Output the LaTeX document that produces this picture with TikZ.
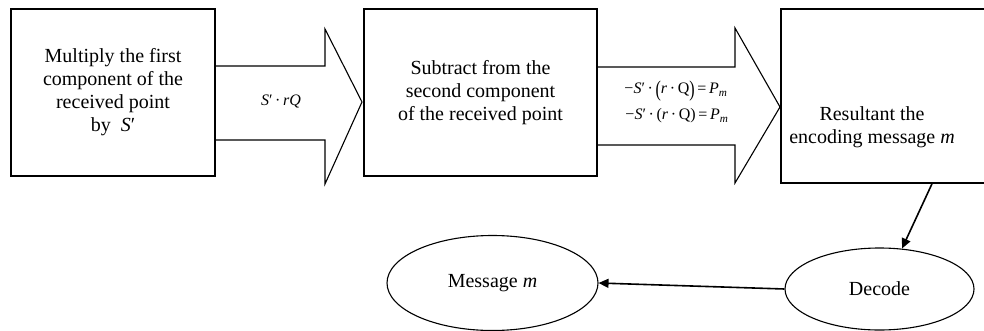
\documentclass[tikz,border=0pt]{standalone}
\usepackage{fontspec}
\setmainfont{Liberation Serif}
\usepackage{graphicx}
\usetikzlibrary{arrows.meta,shapes.geometric}
\newcommand{\bigparL}{\raisebox{-0.16em}{\scalebox{1}[1.4]{(}}}
\newcommand{\bigparR}{\raisebox{-0.16em}{\scalebox{1}[1.4]{)}}}
\begin{document}
\begin{tikzpicture}[x=1pt,y=-1pt,
  box/.style={draw,line width=1.5pt,align=center,font=\fontsize{20}{23}\selectfont,inner sep=0pt},
  oval/.style={draw,ellipse,line width=1.1pt,font=\fontsize{20}{23}\selectfont,inner sep=0pt},
  bigarrow/.style={draw,line width=1.1pt,line join=miter},
  conn/.style={line width=1.6pt,-{Triangle[length=10pt,width=9pt]}},
  lbl/.style={font=\fontsize{16}{24}\selectfont,align=center,inner sep=0pt},
  txt/.style={font=\fontsize{20}{23}\selectfont,align=center,inner sep=0pt}]
\useasboundingbox (0,0) rectangle (984,331);
\clip (0,0) rectangle (984,331);
% boxes
\node[box,minimum width=204pt,minimum height=167pt] (b1) at (113,92.5)
  {Multiply the first\\component of the\\received point\\by \ \textit{S}′};
\node[box,minimum width=233pt,minimum height=167pt] (b2) at (480.5,92.5)
  {Subtract from the\\second component\\of the received point};
\node[box,minimum width=220pt,minimum height=174pt] (b3) at (891,96) {};
\node[txt] (b3t) at (872,127) {Resultant the\\encoding message \textit{m}};
% big arrows
\draw[bigarrow] (b1.east |- 0,66) -- (325,66) -- (325,29) -- (362,102)
  -- (325,184) -- (325,140) -- (b1.east |- 0,140);
\draw[bigarrow] (b2.east |- 0,67) -- (735,67) -- (735,28) -- (780,107)
  -- (735,183) -- (735,145) -- (b2.east |- 0,145);
\node[lbl] (l1) at (281,102) {\textit{S}′\,·\,\textit{rQ}};
\node[lbl] (l2) at (676,91) {−\textit{S}′\,·\,\bigparL\textit{r}\,·\,Q\bigparR\,=\,\textit{P}\textsubscript{\textit{m}}};
\node[lbl] (l3) at (677,116) {−\textit{S}′\,·\,(\textit{r}\,·\,Q)\,=\,\textit{P}\textsubscript{\textit{m}}};
% ellipses
\node[oval,minimum width=189pt,minimum height=82pt] (dec) at (879.5,289) {\raisebox{-7pt}{Decode}};
\node[oval,minimum width=211pt,minimum height=95pt] (msg) at (492.5,283) {Message \textit{m}};
% connectors
\coordinate (c1) at (b3.south -| 932,0);
\coordinate (c2) at (902,248.5);
\draw[conn] (c1) -- (c2);
\draw[conn] (dec.west) -- (msg.east);
\end{tikzpicture}
\end{document}
